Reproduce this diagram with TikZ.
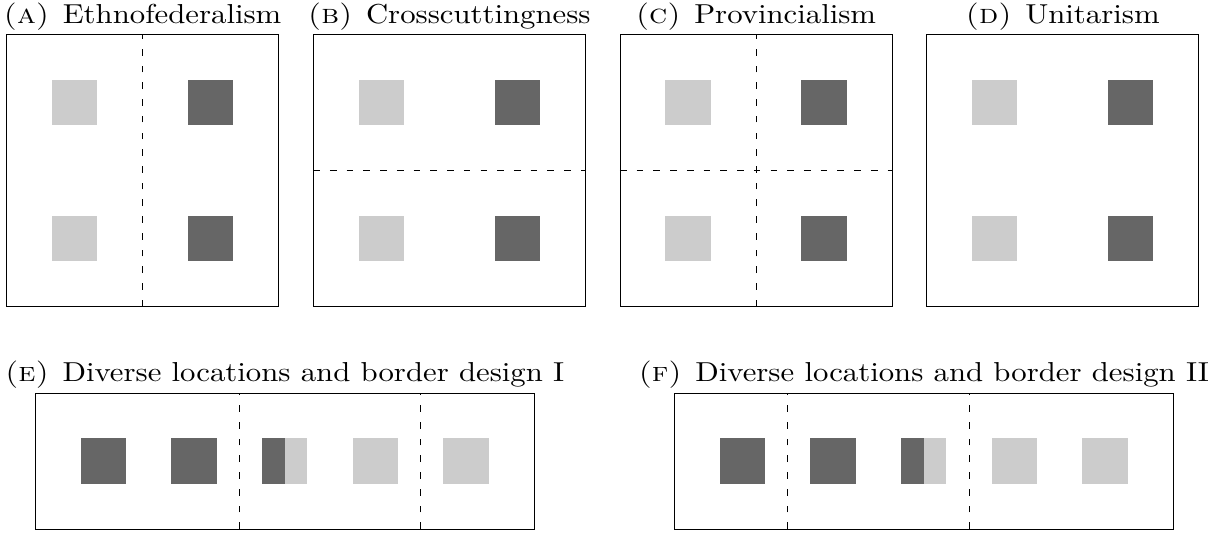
\documentclass[tikz,border=0pt]{standalone}
\usepackage{tikz}
\usetikzlibrary{calc}
\definecolor{lightcell}{HTML}{CCCCCC}
\definecolor{darkcell}{HTML}{666666}

\tikzset{
  frame/.style={line width=0.5pt},
  border/.style={line width=0.5pt,dash pattern=on 4.2pt off 6.3pt},
  title/.style={font=\normalsize,anchor=base,inner sep=0pt,xscale=1.93,yscale=1.72,transform shape},
}
% two light and two dark cells of a square panel
\newcommand{\cellgrid}{%
  \fill[lightcell] (1,1) rectangle (2,2); \fill[lightcell] (1,4) rectangle (2,5);
  \fill[darkcell] (4,1) rectangle (5,2);  \fill[darkcell] (4,4) rectangle (5,5);
}
% five locations in a row, the middle one split
\newcommand{\cellrow}{%
  \fill[darkcell] (1,1) rectangle (2,2);
  \fill[darkcell] (3,1) rectangle (4,2);
  \fill[darkcell] (5,1) rectangle (5.5,2);
  \fill[lightcell] (5.5,1) rectangle (6,2);
  \fill[lightcell] (7,1) rectangle (8,2);
  \fill[lightcell] (9,1) rectangle (10,2);
}
\newcommand{\sublabel}[1]{\textsc{(#1)}\hspace{4.4pt}}

\begin{document}
\begin{tikzpicture}
  \useasboundingbox (0,0) rectangle (27.0,-11.78);
  % (A) vertical border
  \begin{scope}[shift={(0.143,-6.761)}]
    \cellgrid
    \draw[frame] (0,0) rectangle (6,6);
    \draw[border] (3,0) -- (3,6);
  \end{scope}
  \node[title] (titleA) at (3.143,-0.529) {\sublabel{a}Ethnofederalism};
  % (B) horizontal border
  \begin{scope}[shift={(6.909,-6.761)}]
    \cellgrid
    \draw[frame] (0,0) rectangle (6,6);
    \draw[border] (0,3) -- (6,3);
  \end{scope}
  \node[title] (titleB) at (9.909,-0.529) {\sublabel{b}Crosscuttingness};
  % (C) both borders
  \begin{scope}[shift={(13.675,-6.761)}]
    \cellgrid
    \draw[frame] (0,0) rectangle (6,6);
    \draw[border] (3,0) -- (3,6);
    \draw[border] (0,3) -- (6,3);
  \end{scope}
  \node[title] (titleC) at (16.675,-0.529) {\sublabel{c}Provincialism};
  % (D) no border
  \begin{scope}[shift={(20.441,-6.761)}]
    \cellgrid
    \draw[frame] (0,0) rectangle (6,6);
  \end{scope}
  \node[title] (titleD) at (23.441,-0.529) {\sublabel{d}Unitarism};
  % (E) borders at 4.5 and 8.5
  \begin{scope}[shift={(0.779,-11.670)}]
    \cellrow
    \draw[frame] (0,0) rectangle (11,3);
    \draw[border] (4.5,0) -- (4.5,3);
    \draw[border] (8.5,0) -- (8.5,3);
  \end{scope}
  \node[title] (titleE) at (6.279,-8.42) {\sublabel{e}Diverse locations and border design I};
  % (F) borders at 2.5 and 6.5
  \begin{scope}[shift={(14.878,-11.670)}]
    \cellrow
    \draw[frame] (0,0) rectangle (11,3);
    \draw[border] (2.5,0) -- (2.5,3);
    \draw[border] (6.5,0) -- (6.5,3);
  \end{scope}
  \node[title] (titleF) at (20.378,-8.42) {\sublabel{f}Diverse locations and border design II};
\end{tikzpicture}
\end{document}
